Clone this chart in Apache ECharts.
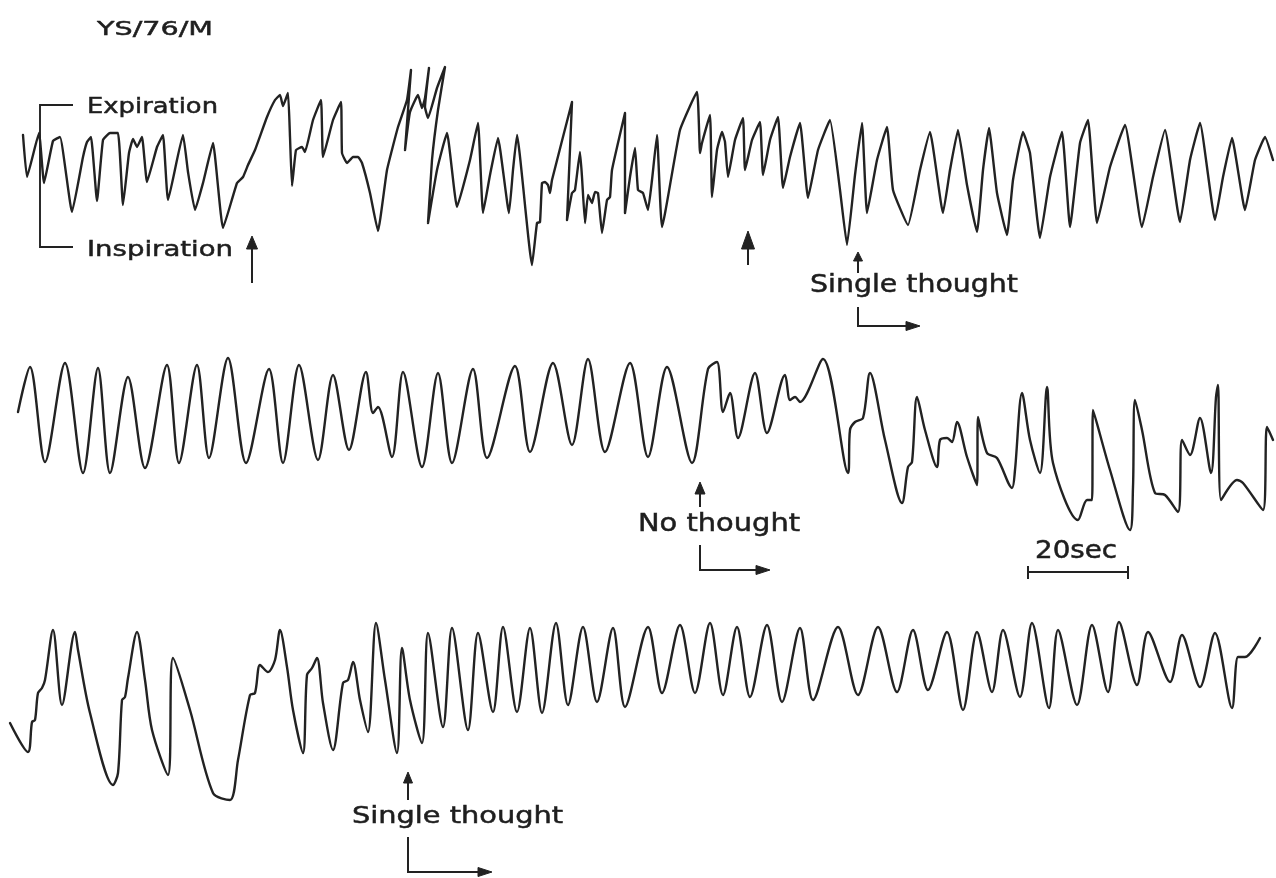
<!DOCTYPE html>
<html><head><meta charset="utf-8">
<script src="https://cdn.jsdelivr.net/npm/echarts@6/dist/echarts.min.js"></script>
<style>html,body{margin:0;padding:0;background:#ffffff}#c{width:1276px;height:878px}</style>
</head><body><div id="c"></div>
<script>
// time axis in seconds across the page, amplitude in arbitrary units (up = expiration)
const timeMax = 255.2;
const trace1 = [[4.6,135],[5.4,93],[7.8,137],[8.8,87],[10.6,129],[12.0,133],[14.4,58],[16.6,113],[17.4,128],[18.2,133],[19.4,69],[20.6,130],[22.0,137],[23.6,137],[24.6,65],[25.8,117],[26.6,131],[27.4,123],[28.4,133],[29.4,88],[31.4,123],[32.6,135],[33.6,70],[36.6,135],[37.6,98],[39.0,60],[40.6,87],[42.6,127],[44.6,42],[47.4,87],[48.6,93],[49.6,105],[51.0,120],[53.4,153],[55.0,170],[56.0,175],[56.6,164],[57.6,177],[58.0,133],[58.4,84],[59.2,120],[60.4,123],[61.0,118],[62.6,150],[64.2,170],[64.6,113],[66.6,150],[68.2,168],[68.4,117],[69.4,107],[70.6,113],[71.6,113],[72.4,107],[74.0,77],[75.6,39],[77.4,100],[79.6,143],[81.4,170],[82.2,200],[81.0,120],[82.0,158],[83.6,175],[84.4,162],[85.0,172],[85.8,202],[85.0,163],[85.6,152],[87.4,182],[89.0,203],[87.6,160],[86.4,110],[85.6,47],[87.4,100],[89.4,137],[91.4,63],[94.0,110],[95.6,147],[96.6,57],[98.0,95],[99.6,132],[101.8,57],[102.6,100],[103.4,135],[106.4,5],[107.4,47],[108.0,48],[108.4,87],[109.0,88],[109.6,85],[110.0,77],[110.4,90],[114.4,168],[113.4,50],[114.4,77],[115.0,80],[116.0,118],[116.4,93],[117.0,47],[117.6,75],[118.4,67],[119.0,78],[119.6,77],[120.4,37],[121.4,70],[122.0,73],[122.4,100],[125.0,157],[125.0,57],[126.0,93],[127.0,122],[127.6,80],[128.6,77],[129.6,60],[130.4,90],[131.4,135],[132.4,43],[136.0,140],[139.4,178],[140.0,117],[140.4,127],[142.0,155],[142.4,73],[143.4,120],[144.4,138],[145.0,128],[145.6,93],[147.0,130],[148.6,152],[149.0,100],[150.4,130],[152.0,148],[152.6,95],[154.0,130],[155.6,153],[156.6,82],[158.0,113],[160.0,147],[161.6,72],[163.6,120],[166.0,150],[168.0,80],[169.4,25],[171.0,95],[172.4,147],[173.4,57],[175.4,110],[177.4,143],[178.6,80],[181.6,45],[184.0,100],[186.0,138],[188.6,57],[190.0,100],[191.6,140],[193.4,85],[195.4,38],[196.6,100],[197.8,142],[199.4,77],[201.4,35],[202.6,90],[204.6,138],[206.0,117],[208.0,32],[210.0,93],[212.4,138],[214.0,43],[216.0,127],[217.6,150],[219.4,47],[222.0,103],[225.0,145],[228.4,43],[230.6,93],[233.0,140],[236.0,48],[238.0,110],[240.0,147],[243.0,50],[244.6,93],[246.4,132],[249.0,60],[251.0,110],[253.0,133],[254.6,110]];
const trace2 = [[3.6,128],[6.0,173],[9.0,78],[13.0,177],[16.6,67],[19.6,172],[22.0,67],[25.6,163],[29.0,72],[33.4,175],[35.8,77],[39.4,175],[41.8,82],[45.6,182],[49.2,77],[53.8,171],[56.6,77],[59.8,175],[63.6,80],[66.6,165],[69.8,90],[73.2,168],[74.6,127],[75.6,133],[78.4,83],[80.6,168],[84.4,73],[87.6,167],[90.4,77],[94.6,171],[97.4,82],[103.0,174],[106.0,88],[110.6,177],[114.4,95],[117.6,181],[121.0,88],[126.0,177],[129.6,83],[133.4,173],[138.4,77],[141.6,171],[143.4,178],[144.6,128],[146.0,147],[147.6,102],[151.0,167],[153.4,107],[157.0,165],[158.0,140],[159.0,143],[160.0,138],[164.6,181],[169.6,67],[170.0,110],[171.0,118],[172.6,122],[174.0,167],[177.0,100],[180.4,37],[181.6,73],[182.4,78],[183.4,143],[185.0,110],[187.4,73],[188.0,100],[189.4,102],[190.4,98],[191.4,118],[193.4,83],[195.4,55],[195.6,123],[197.4,87],[199.4,82],[202.4,52],[203.0,70],[204.4,147],[206.0,100],[208.0,67],[209.4,153],[210.6,77],[215.6,20],[217.4,40],[218.4,40],[218.6,130],[222.0,70],[226.0,10],[226.6,53],[227.0,140],[228.4,110],[231.0,47],[233.0,45],[235.6,28],[236.4,100],[238.0,85],[240.0,122],[242.2,67],[243.2,143],[243.6,155],[244.2,40],[247.4,60],[248.6,57],[252.6,30],[253.4,113],[254.6,100]];
const trace3 = [[2.0,87],[5.6,58],[6.4,88],[7.0,90],[7.6,117],[8.4,122],[9.0,130],[10.6,180],[12.4,105],[15.0,178],[15.6,160],[18.0,97],[22.6,25],[23.6,37],[24.4,110],[25.0,113],[25.6,132],[27.4,178],[29.0,130],[30.4,80],[33.6,35],[34.6,152],[38.0,100],[42.6,17],[46.0,10],[47.6,50],[50.0,115],[51.0,117],[52.0,145],[53.6,138],[55.0,150],[56.0,180],[57.4,143],[58.6,100],[60.6,57],[61.4,135],[62.4,142],[63.4,152],[64.6,107],[66.6,60],[68.6,127],[69.6,130],[70.6,148],[72.0,110],[73.6,78],[75.2,187],[77.0,130],[79.4,57],[80.4,162],[82.0,110],[84.4,67],[85.6,177],[88.6,83],[90.4,182],[93.6,80],[95.6,177],[98.6,98],[100.6,183],[103.4,98],[106.0,182],[108.4,97],[111.2,187],[113.6,105],[116.6,183],[119.4,108],[122.6,182],[125.0,103],[129.6,183],[132.4,117],[136.0,185],[139.0,117],[142.0,187],[144.6,115],[147.4,183],[150.0,113],[153.4,185],[156.4,108],[160.0,182],[162.6,110],[167.6,183],[171.6,115],[175.6,183],[179.4,118],[182.6,180],[185.6,120],[189.4,178],[192.6,100],[195.4,178],[198.4,118],[200.6,180],[204.0,113],[206.4,187],[209.8,102],[211.6,180],[215.4,105],[218.4,185],[221.6,118],[223.8,188],[227.4,125],[229.6,178],[234.0,128],[236.4,175],[240.0,123],[243.0,177],[246.4,102],[247.6,153],[249.0,153],[252.0,172]];
const traces = [trace1, trace2, trace3];
const ampMax = [215, 195, 200];
// annotation times (s)
const inspirationArrowT = 50.4;
const secondArrowT = 149.6;
const singleThought1T = 171.6;
const noThoughtT = 140.0;
const singleThought3T = 81.6;
const scaleBarStartT = 205.6;
const scaleBarSec = 20;

const grids = [
  {left:0, width:1276, top:55, height:215},
  {left:0, width:1276, top:345, height:195},
  {left:0, width:1276, top:610, height:200}
];
const INK = '#222222';
const FONT = '"DejaVu Sans", "Noto Sans", sans-serif';
const chart = echarts.init(document.getElementById('c'));
chart.setOption({
  animation:false,
  backgroundColor:'#ffffff',
  grid: grids,
  xAxis: grids.map((g,i)=>({type:'value', gridIndex:i, min:0, max:timeMax, show:false, splitLine:{show:false}})),
  yAxis: grids.map((g,i)=>({type:'value', gridIndex:i, min:0, max:ampMax[i], show:false, splitLine:{show:false}})),
  series: traces.map((d,i)=>({
    type:'line', xAxisIndex:i, yAxisIndex:i, data:d, symbol:'none', clip:false,
    smooth: i===0 ? 0.12 : 0.3,
    lineStyle:{color:INK, width:2.4, join:'round', cap:'round'}
  }))
});

const mctx = document.createElement('canvas').getContext('2d');
function label(str, x, y, size, targetW){
  const font = `${size}px ${FONT}`;
  mctx.font = font;
  const w = mctx.measureText(str).width;
  return {type:'text', x:x, y:y, scaleX: targetW / w, silent:true,
    style:{text:str, font:font, fill:'#1e1e1e', stroke:'#1e1e1e', lineWidth:0.5, textAlign:'left', textVerticalAlign:'middle', verticalAlign:'middle'}};
}
function px(t, gi){ return chart.convertToPixel({xAxisIndex:gi}, t); }
function line(pts, w){ return {type:'polyline', silent:true, shape:{points:pts}, style:{stroke:INK, lineWidth:w||1.8, fill:null}}; }
function tri(pts){ return {type:'polygon', silent:true, shape:{points:pts}, style:{fill:INK, stroke:INK, lineWidth:1}}; }
function upArrow(x, tipY, headH, headW, bottomY){
  return [line([[x, tipY+headH-1],[x, bottomY]], 2), tri([[x, tipY],[x-headW/2, tipY+headH],[x+headW/2, tipY+headH]])];
}
function lArrow(x, y1, y2, x2){
  return [line([[x,y1],[x,y2],[x2-10,y2]], 2), tri([[x2,y2],[x2-14,y2-4.5],[x2-14,y2+4.5]])];
}
const a1 = px(inspirationArrowT,0), a2 = px(secondArrowT,0), a3 = px(singleThought1T,0);
const a4 = px(noThoughtT,1), a5 = px(singleThought3T,2);
const sb0 = px(scaleBarStartT,1), sb1 = px(scaleBarStartT+scaleBarSec,1);
const g = [];
g.push(label('YS/76/M', 97, 30, 20, 116));
g.push(label('Expiration', 87, 107, 22, 131));
g.push(label('Inspiration', 87, 250, 22, 146));
g.push(line([[73,105],[40,105],[40,247],[73,247]], 1.9));
g.push(...upArrow(a1, 236, 13, 11, 283));
g.push(...upArrow(a2, 231, 18, 13, 265));
g.push(...upArrow(a3, 252, 9, 9, 273));
g.push(label('Single thought', 810, 286, 24, 208));
g.push(...lArrow(a3, 307, 326, a3+62));
g.push(...upArrow(a4, 482, 12, 10, 507));
g.push(label('No thought', 638, 525, 24, 162));
g.push(...lArrow(a4, 545, 570, a4+70));
g.push(label('20sec', 1035, 552, 24, 82));
g.push(line([[sb0,572],[sb1,572]], 2));
g.push(line([[sb0,566],[sb0,579]], 2));
g.push(line([[sb1,566],[sb1,579]], 2));
g.push(...upArrow(a5, 772, 11, 9, 800));
g.push(label('Single thought', 352, 817, 23, 211));
g.push(...lArrow(a5, 837, 872, a5+84));
chart.setOption({graphic:{elements:g}});
</script>
</body></html>
